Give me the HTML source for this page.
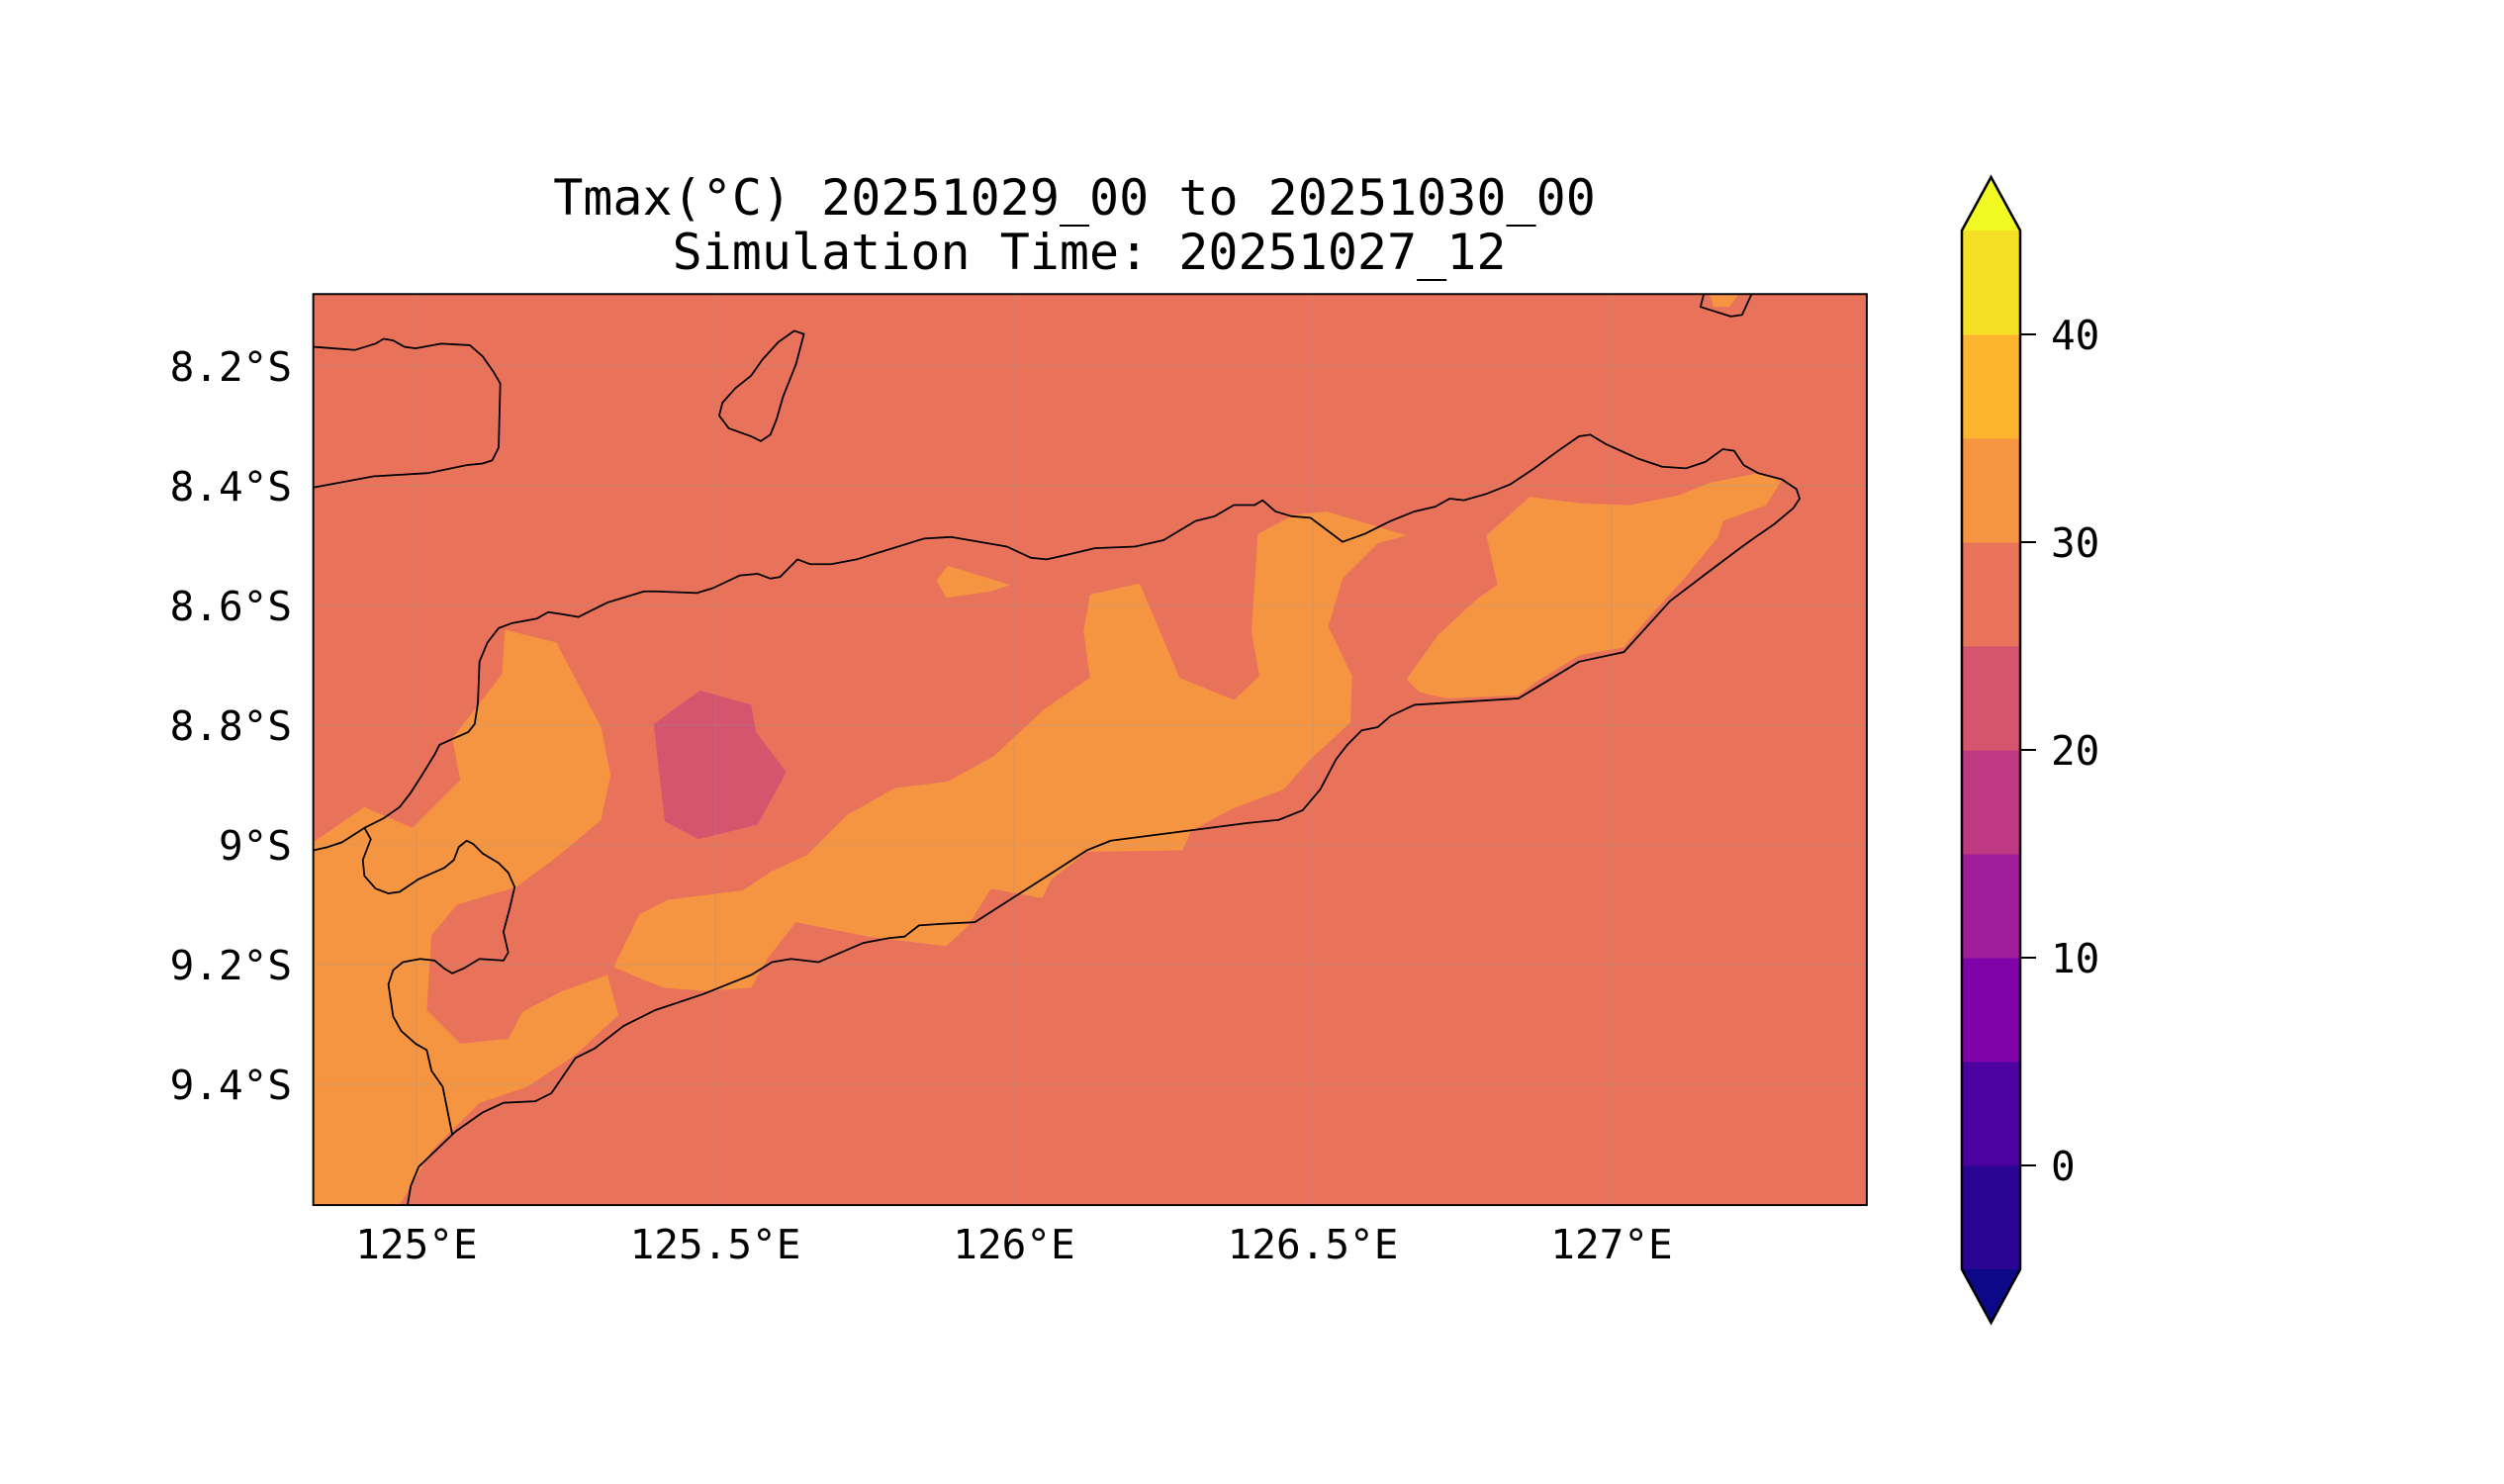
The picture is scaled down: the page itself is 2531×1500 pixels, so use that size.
<!DOCTYPE html>
<html><head><meta charset="utf-8"><style>
html,body{margin:0;padding:0;background:#fff;}
svg{display:block;}
text{font-family:"DejaVu Sans Mono","Liberation Mono",monospace;fill:#000;}
</style></head><body>
<svg id="fig" width="2531" height="1500" viewBox="0 0 2531 1500" xmlns="http://www.w3.org/2000/svg">
<rect width="2531" height="1500" fill="#fff"/>
<text x="1086" y="217" font-size="50" text-anchor="middle">Tmax(°C) 20251029_00 to 20251030_00</text>
<text x="1101" y="272" font-size="50" text-anchor="middle">Simulation Time: 20251027_12</text>
<defs><clipPath id="mapclip"><rect x="196" y="184" width="972" height="570"/></clipPath></defs>
<g id="map" transform="scale(1.6155)">
 <g clip-path="url(#mapclip)">
  <rect x="196" y="184" width="972" height="570" fill="#e9735a"/>
  <polygon fill="#f69541" points="196,527 228,505 258,518 288,488 283,462 300,440 314,422 316,394 348,402 376,455 382,485 376,513 350,535 323,555 286,566 270,585 267,632 288,653 318,650 327,633 352,620 380,610 387,635 360,660 330,680 300,690 270,720 250,754 196,754"/>
  <polygon fill="#f69541" points="384,605 400,572 418,563 465,557 483,545 505,535 530,510 560,493 593,489 622,473 653,444 682,424 678,395 682,372 713,365 738,424 772,438 788,423 783,395 785,365 787,334 810,322 830,320 880,335 862,340 840,362 831,392 846,423 845,452 820,475 803,494 771,506 745,520 740,532 680,533 658,550 652,562 620,556 605,580 592,592 543,586 498,577 480,600 470,618 440,620 415,618 400,612"/>
  <polygon fill="#f69541" points="586,363 593,354 632,366 620,370 592,374"/>
  <polygon fill="#f69541" points="880,425 900,397 925,374 937,366 930,335 957,311 990,315 1020,316 1050,310 1070,302 1100,296 1115,300 1105,316 1078,326 1075,336 1052,364 1030,388 1016,405 988,410 962,426 950,435 905,437 888,433"/>
  <polygon fill="#f69541" points="1070,184 1088,184 1082,192 1072,192"/>
  <polygon fill="#d5546e" points="409,453 438,432 470,441 473,458 492,483 474,516 437,525 416,514"/>
  <g id="grid" stroke="#999" stroke-opacity="0.35" stroke-width="0.6"></g>
  <g fill="none" stroke="#000" stroke-width="1.1" stroke-linejoin="round">
   <polyline points="196,217 222,219 235,215 240,212 246,213 253,217 260,218 276,215 294,216 302,223 309,233 313,240 312,280 308,288 302,290 292,291 268,296 234,298 196,305"/>
   <polygon points="503,209 497,207 487,214 477,225 470,235 460,243 452,252 450,260 456,268 470,273 476,276 482,272 486,262 490,248 498,228"/>
   <polyline points="196,532 205,530 214,527 228,518 240,512 250,505 257,496 264,485 272,472 275,466 284,462 293,458 297,453 299,440 300,414 305,402 312,393 320,390 336,387 343,383 350,384 362,386 380,377 403,370 410,370 436,371 446,368 463,360 474,359 482,362 488,361 499,350 507,353 520,353 536,350 578,337 595,336 630,342 645,349 655,350 668,347 685,343 710,342 728,338 748,326 760,323 772,316 785,316 790,313 798,320 808,323 820,324 828,330 840,339 854,334 870,326 885,320 898,317 907,312 916,313 930,309 945,303 960,293 975,282 988,273 995,272 1005,278 1025,287 1040,292 1055,293 1067,289 1078,281 1085,282 1091,291 1100,296 1115,300 1124,306 1126,312 1122,318 1110,328 1097,337 1090,342 1070,357 1045,376 1016,408 988,414 965,428 950,437 885,441 870,448 862,455 852,457 843,466 836,475 826,494 815,507 800,513 780,515 695,526 680,532 660,545 635,561 610,577 590,578 575,579 566,586 556,587 540,590 512,602 495,600 483,602 470,610 440,622 410,632 390,642 372,656 360,662 345,684 335,689 315,690 302,696 285,708 262,730 257,742 255,754"/>
   <polyline points="228,518 232,525 227,538 228,548 235,556 243,559 250,558 262,550 278,543 284,538 287,530 292,526 296,528 302,534 312,540 318,546 322,555 319,568 315,583 318,596 315,601 300,600 290,606 283,609 278,606 272,601 263,600 252,602 246,607 243,616 246,636 251,645 260,653 267,657 270,670 277,680 283,710"/>
   <polyline points="1066,184 1064,192 1083,198 1090,197 1095,186 1096,184"/>
  </g>
 </g>
 <rect x="196" y="184" width="972" height="570" fill="none" stroke="#000" stroke-width="1.2"/>
</g>
<g id="axes"></g>
<g id="cbar"></g>
</svg>
<script>
const lonTicks = [125, 125.5, 126, 126.5, 127];
const lonLabels = ["125°E", "125.5°E", "126°E", "126.5°E", "127°E"];
const latTicks = [8.2, 8.4, 8.6, 8.8, 9.0, 9.2, 9.4];
const latLabels = ["8.2°S", "8.4°S", "8.6°S", "8.8°S", "9°S", "9.2°S", "9.4°S"];
const cbLevels = [-5, 0, 5, 10, 15, 20, 25, 30, 35, 40, 45];
const cbColors = ["#2a0593", "#4c02a1", "#7e03a8", "#a21d9a", "#c03a83", "#d5546e", "#e9735a", "#f69541", "#fdb42f", "#f5e026"];
const cbUnder = "#0d0887";
const cbOver = "#f0f921";
const cbTicks = [0, 10, 20, 30, 40];

const NS = "http://www.w3.org/2000/svg";
const S = 1.6155;
function xLon(lon){ return 421 + (lon - 125) * 604; }
function yLat(lat){ return 370 + (lat - 8.2) * 605; }
function yCb(v){ return 1178 - v * 21.0; }
function mk(tag, attrs, parent){ const e = document.createElementNS(NS, tag); for (const k in attrs) e.setAttribute(k, attrs[k]); parent.appendChild(e); return e; }

const grid = document.getElementById('grid');
const axes = document.getElementById('axes');
lonTicks.forEach((lon, i) => {
  const x = xLon(lon) / S;
  const l = mk('line', {x1: x, x2: x, y1: 184, y2: 754}, grid);
  
  
  const t = mk('text', {x: xLon(lon), y: 1272, 'font-size': 41, 'text-anchor': 'middle'}, axes);
  t.textContent = lonLabels[i];
  
  
});
latTicks.forEach((lat, i) => {
  const y = yLat(lat) / S;
  const l = mk('line', {x1: 196, x2: 1168, y1: y, y2: y}, grid);
  
  
  const t = mk('text', {x: 295, y: yLat(lat) + 15, 'font-size': 41, 'text-anchor': 'end'}, axes);
  t.textContent = latLabels[i];
  
  
});

const cb = document.getElementById('cbar');
const cx0 = 1983, cx1 = 2042, cxm = (cx0 + cx1) / 2;
for (let i = 0; i < cbColors.length; i++) {
  const yt = yCb(cbLevels[i + 1]), yb = yCb(cbLevels[i]);
  const r = mk('rect', {x: cx0, y: yt, width: cx1 - cx0, height: yb - yt + 0.5, fill: cbColors[i]}, cb);
  
  
}
const cbTop = yCb(cbLevels[cbLevels.length - 1]), cbBot = yCb(cbLevels[0]);
const tri1 = mk('polygon', {points: `${cx0},${cbTop} ${cxm},${cbTop - 54} ${cx1},${cbTop}`, fill: cbOver}, cb);


const tri2 = mk('polygon', {points: `${cx0},${cbBot} ${cxm},${cbBot + 54} ${cx1},${cbBot}`, fill: cbUnder}, cb);


const outline = mk('polygon', {points: `${cx0},${cbTop} ${cxm},${cbTop - 54} ${cx1},${cbTop} ${cx1},${cbBot} ${cxm},${cbBot + 54} ${cx0},${cbBot}`, fill: 'none', stroke: '#000', 'stroke-width': 2.5}, cb);


cbTicks.forEach(v => {
  const y = yCb(v);
  const tk = mk('line', {x1: cx1, x2: cx1 + 16, y1: y, y2: y, stroke: '#000', 'stroke-width': 2}, cb);
  
  
  const t = mk('text', {x: 2073, y: y + 15, 'font-size': 41}, cb);
  t.textContent = String(v);
  
  
});
</script>
</body></html>
